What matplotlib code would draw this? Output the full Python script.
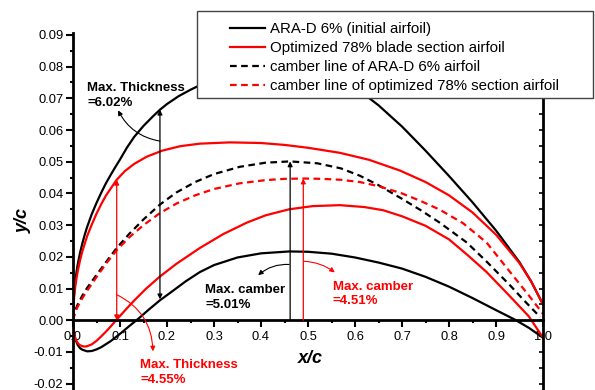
import matplotlib
matplotlib.use("Agg")
import matplotlib.pyplot as plt
from matplotlib.patches import Rectangle
from matplotlib.ticker import MultipleLocator, FixedLocator, FixedFormatter

plt.rcParams['font.family'] = ['Liberation Sans', 'DejaVu Sans']

# ---- data ----
arad_up_x = [0, 0.001, 0.0025, 0.005, 0.0075, 0.01, 0.015, 0.02, 0.025, 0.03, 0.04, 0.05, 0.06,
             0.07, 0.08, 0.09, 0.1, 0.115, 0.13, 0.15, 0.17, 0.185, 0.2, 0.225, 0.25, 0.275, 0.3,
             0.35, 0.4, 0.45, 0.5, 0.55, 0.6, 0.65, 0.7, 0.75, 0.8, 0.85, 0.9, 0.95, 0.975, 1.0]
arad_up_y = [0, 0.0055, 0.0088, 0.0125, 0.0153, 0.0176, 0.0213, 0.0243, 0.0270, 0.0294, 0.0335,
             0.0370, 0.0402, 0.0432, 0.0458, 0.0483, 0.0507, 0.0545, 0.0578, 0.0613, 0.0643,
             0.0664, 0.0682, 0.0707, 0.0727, 0.0745, 0.0760, 0.0783, 0.0797, 0.0800, 0.0792,
             0.0772, 0.0735, 0.0678, 0.0611, 0.0535, 0.0455, 0.0372, 0.0283, 0.0183, 0.0122,
             0.005]

arad_lo_x = [0, 0.001, 0.0025, 0.005, 0.01, 0.015, 0.02, 0.03, 0.04, 0.05, 0.06, 0.08, 0.1, 0.12,
             0.14, 0.16, 0.185, 0.21, 0.24, 0.27, 0.3, 0.35, 0.4, 0.46, 0.5, 0.55, 0.6, 0.65, 0.7,
             0.75, 0.8, 0.85, 0.9, 0.94, 0.97, 1.0]
arad_lo_y = [0, -0.0025, -0.0042, -0.0060, -0.0078, -0.0088, -0.0093, -0.0098, -0.0097, -0.0092,
             -0.0085, -0.0066, -0.0043, -0.0018, 0.0006, 0.0032, 0.0063, 0.0090, 0.0123, 0.0152,
             0.0174, 0.0198, 0.0211, 0.0217, 0.0216, 0.0210, 0.0198, 0.0182, 0.0163, 0.0137,
             0.0106, 0.0070, 0.0032, 0.0002, -0.0024, -0.0055]

opt_up_x = [0, 0.001, 0.0025, 0.005, 0.0075, 0.01, 0.015, 0.02, 0.03, 0.04, 0.05, 0.06, 0.07,
            0.08, 0.093, 0.11, 0.13, 0.157, 0.19, 0.228, 0.27, 0.334, 0.4, 0.45, 0.5, 0.568, 0.63,
            0.696, 0.75, 0.8, 0.85, 0.9, 0.95, 0.975, 1.0]
opt_up_y = [0, 0.0045, 0.0075, 0.0108, 0.0133, 0.0154, 0.0189, 0.0218, 0.0265, 0.0302, 0.0336,
            0.0366, 0.0393, 0.0415, 0.0443, 0.0470, 0.0493, 0.0516, 0.0535, 0.0549, 0.0557,
            0.0561, 0.0559, 0.0553, 0.0544, 0.0528, 0.0506, 0.0472, 0.0436, 0.0394, 0.0340,
            0.0270, 0.0180, 0.0122, 0.005]

opt_lo_x = [0, 0.001, 0.0025, 0.005, 0.01, 0.015, 0.02, 0.025, 0.03, 0.04, 0.05, 0.06, 0.07, 0.08,
            0.093, 0.11, 0.13, 0.155, 0.185, 0.22, 0.27, 0.32, 0.37, 0.41, 0.46, 0.51, 0.568,
            0.62, 0.66, 0.7, 0.75, 0.8, 0.84, 0.88, 0.93, 0.97, 1.0]
opt_lo_y = [0, -0.0025, -0.0042, -0.0058, -0.0072, -0.0079, -0.0082, -0.0083, -0.0082, -0.0076,
            -0.0065, -0.0051, -0.0036, -0.0020, 0.0002, 0.0030, 0.0062, 0.0099, 0.0138, 0.0178,
            0.0228, 0.0272, 0.0308, 0.0331, 0.0350, 0.0360, 0.0363, 0.0357, 0.0347, 0.0328,
            0.0298, 0.0255, 0.0205, 0.0152, 0.0075, 0.0012, -0.0055]

arad_cam_x = [0, 0.005, 0.01, 0.02, 0.03, 0.05, 0.07, 0.093, 0.12, 0.15, 0.185, 0.22, 0.26, 0.3,
              0.355, 0.41, 0.462, 0.52, 0.57, 0.61, 0.65, 0.7, 0.74, 0.78, 0.838, 0.88, 0.93,
              0.96, 0.994]
arad_cam_y = [0, 0.0032, 0.0050, 0.0078, 0.0102, 0.0143, 0.0183, 0.0228, 0.0273, 0.0318, 0.0365,
              0.0403, 0.0436, 0.0461, 0.0484, 0.0497, 0.0501, 0.0495, 0.0479, 0.0456, 0.0426,
              0.0383, 0.0347, 0.0308, 0.0245, 0.0185, 0.0110, 0.0062, 0.001]

opt_cam_x = [0, 0.005, 0.01, 0.02, 0.03, 0.05, 0.07, 0.093, 0.12, 0.15, 0.185, 0.22, 0.26, 0.3,
             0.355, 0.41, 0.45, 0.49, 0.53, 0.57, 0.61, 0.65, 0.7, 0.74, 0.78, 0.83, 0.88, 0.93,
             0.97, 1.0]
opt_cam_y = [0, 0.0027, 0.0043, 0.0070, 0.0093, 0.0136, 0.0178, 0.0221, 0.0262, 0.0300, 0.0338,
             0.0368, 0.0394, 0.0414, 0.0432, 0.0442, 0.0446, 0.0447, 0.0446, 0.0443, 0.0436,
             0.0423, 0.0400, 0.0376, 0.0349, 0.0306, 0.0245, 0.0152, 0.0078, 0.002]

labels = ["ARA-D 6% (initial airfoil)",
          "Optimized 78% blade section airfoil",
          "camber line of ARA-D 6% airfoil",
          "camber line of optimized 78% section airfoil"]

# vertical dimension arrows: (x, y_bottom, y_top)
thick_arad = (0.185, 0.0066, 0.0664)
thick_opt = (0.093, 0.0, 0.0443)
camber_arad = (0.462, 0.0, 0.0501)
camber_opt = (0.49, 0.0, 0.0447)

x_ticks = [0.0, 0.1, 0.2, 0.3, 0.4, 0.5, 0.6, 0.7, 0.8, 0.9, 1.0]
x_ticklabels = ["0.0", "0.1", "0.2", "0.3", "0.4", "0.5", "0.6", "0.7", "0.8", "0.9", "1.0"]
y_ticks = [-0.02, -0.01, 0.00, 0.01, 0.02, 0.03, 0.04, 0.05, 0.06, 0.07, 0.08, 0.09]
y_ticklabels = ["-0.02", "-0.01", "0.00", "0.01", "0.02", "0.03", "0.04", "0.05", "0.06",
                "0.07", "0.08", "0.09"]

# ---- figure ----
W, H = 595, 390
fig = plt.figure(figsize=(W / 100, H / 100), dpi=100)
ax = fig.add_axes([73 / W, 0, 470 / W, 357 / H])
ax.set_xlim(0, 1.0)
ax.set_ylim(-0.0220, 0.0906)

lw = 1.6
l1, = ax.plot(arad_up_x, arad_up_y, color='black', lw=lw, label=labels[0])
ax.plot(arad_lo_x, arad_lo_y, color='black', lw=lw)
l2, = ax.plot(opt_up_x, opt_up_y, color='red', lw=lw, label=labels[1])
ax.plot(opt_lo_x, opt_lo_y, color='red', lw=lw)
l3, = ax.plot(arad_cam_x, arad_cam_y, color='black', lw=lw, ls=(0, (3, 2)), label=labels[2])
l4, = ax.plot(opt_cam_x, opt_cam_y, color='red', lw=lw, ls=(0, (3, 2)), label=labels[3])

def vline_arrow(spec, color, both):
    x, y0, y1 = spec
    style = '<|-|>' if both else '-|>'
    ax.annotate('', xy=(x, y1), xytext=(x, y0),
                arrowprops=dict(arrowstyle=style, color=color, lw=0.9,
                                mutation_scale=7, shrinkA=0, shrinkB=0))

vline_arrow(thick_arad, 'black', True)
vline_arrow(thick_opt, 'red', True)
vline_arrow(camber_arad, 'black', False)
vline_arrow(camber_opt, 'red', False)

tfs = 9.5
ax.text(0.0298, 0.0709, "Max. Thickness\n=6.02%", fontsize=tfs, fontweight='bold',
        ha='left', va='center', linespacing=1.25)
ax.annotate('', xy=(0.096, 0.0662), xytext=(0.185, 0.0565),
            arrowprops=dict(arrowstyle='-|>', color='black', lw=0.8, mutation_scale=7,
                            shrinkA=0, shrinkB=0, connectionstyle='arc3,rad=-0.25'))

ax.text(0.1426, -0.0164, "Max. Thickness\n=4.55%", fontsize=tfs, fontweight='bold',
        color='red', ha='left', va='center', linespacing=1.35)
ax.annotate('', xy=(0.170, -0.0098), xytext=(0.094, 0.0080),
            arrowprops=dict(arrowstyle='-|>', color='red', lw=0.8, mutation_scale=7,
                            shrinkA=0, shrinkB=0, connectionstyle='arc3,rad=-0.3'))

ax.text(0.281, 0.0071, "Max. camber\n=5.01%", fontsize=tfs, fontweight='bold',
        ha='left', va='center', linespacing=1.3)
ax.annotate('', xy=(0.394, 0.0142), xytext=(0.460, 0.0176),
            arrowprops=dict(arrowstyle='-|>', color='black', lw=0.8, mutation_scale=7,
                            shrinkA=0, shrinkB=0, connectionstyle='arc3,rad=0.2'))

ax.text(0.553, 0.0083, "Max. camber\n=4.51%", fontsize=tfs, fontweight='bold',
        color='red', ha='left', va='center', linespacing=1.3)
ax.annotate('', xy=(0.557, 0.0151), xytext=(0.492, 0.0186),
            arrowprops=dict(arrowstyle='-|>', color='red', lw=0.8, mutation_scale=7,
                            shrinkA=0, shrinkB=0, connectionstyle='arc3,rad=-0.15'))

# spines
for s in ['left', 'right', 'bottom']:
    ax.spines[s].set_linewidth(2.0)
ax.spines['top'].set_visible(False)
ax.spines['bottom'].set_position(('data', 0))

ax.xaxis.set_major_locator(FixedLocator(x_ticks))
ax.xaxis.set_major_formatter(FixedFormatter(x_ticklabels))
ax.xaxis.set_minor_locator(MultipleLocator(0.05))
ax.yaxis.set_major_locator(FixedLocator(y_ticks))
ax.yaxis.set_major_formatter(FixedFormatter(y_ticklabels))
ax.yaxis.set_minor_locator(MultipleLocator(0.005))

ax.tick_params(axis='x', which='major', direction='out', length=5, width=1.5,
               labelsize=9.3, pad=3)
ax.tick_params(axis='x', which='minor', direction='out', length=2.5, width=1.5)
ax.tick_params(axis='y', which='major', direction='out', length=5, width=1.5,
               labelsize=9.3, pad=2, right=True)
ax.tick_params(axis='y', which='minor', direction='out', length=2.5, width=1.5, right=True)
for t in ax.yaxis.get_major_ticks() + ax.yaxis.get_minor_ticks():
    t.tick2line.set_marker(0)  # points inward from right spine
    t.tick2line.set_markersize(3)
    t.tick2line.set_markeredgewidth(1.2)

ax.set_xlabel("x/c", fontsize=13, fontweight='bold', fontstyle='italic')
ax.xaxis.set_label_coords(0.504, 0.112)
ax.set_ylabel("y/c", fontsize=13, fontweight='bold', fontstyle='italic')
ax.yaxis.set_label_coords(-0.087, 0.476)

# legend box
rect = Rectangle((197 / W, 1 - 98 / H), 396 / W, 87 / H, transform=fig.transFigure,
                 facecolor='white', edgecolor='#444444', lw=1.0, zorder=5)
fig.add_artist(rect)
leg = fig.legend([l1, l2, l3, l4], labels, loc='upper left',
                 bbox_to_anchor=(230 / W, 1 - 22 / H), frameon=False, fontsize=10.8,
                 borderpad=0, borderaxespad=0, handlelength=2.3, handletextpad=0.4,
                 labelspacing=0.34)
leg.set_zorder(6)

fig.savefig("out.png", dpi=100)
